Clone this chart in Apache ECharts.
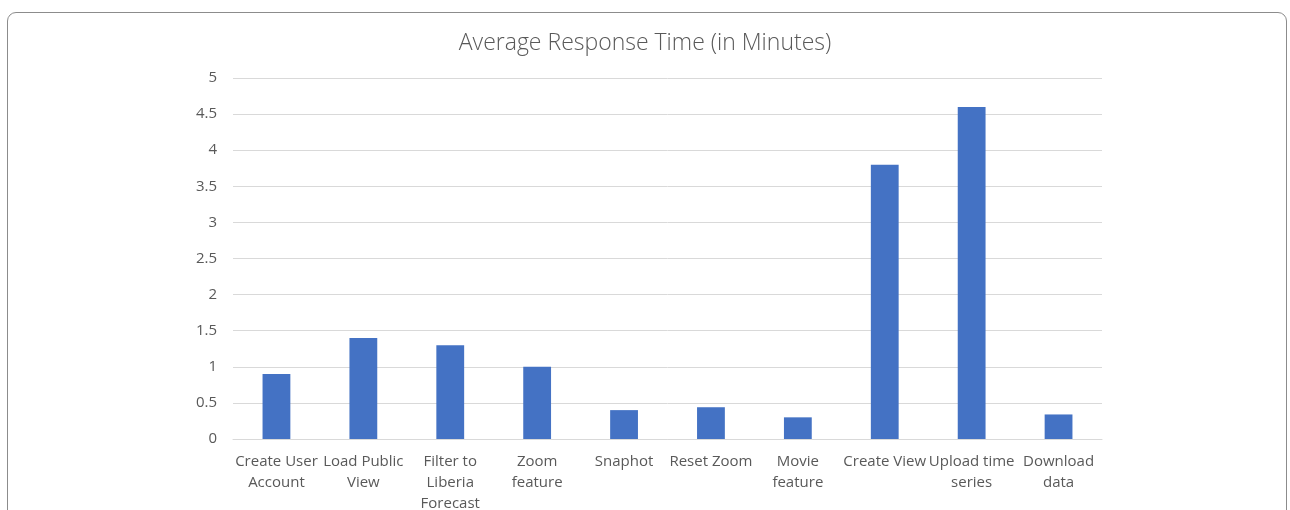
<!DOCTYPE html>
<html>
<head>
<meta charset="utf-8">
<script src="https://cdn.jsdelivr.net/npm/echarts@6/dist/echarts.min.js"></script>
<style>
html,body{margin:0;padding:0;background:#fff;width:1290px;height:510px;overflow:hidden;}
#frame{position:absolute;left:7px;top:12px;width:1280px;height:530px;border:1px solid #8c8c8c;border-radius:9px;box-sizing:border-box;}
#wrap{position:relative;width:1290px;height:510px;overflow:hidden;}
#chart{position:absolute;left:0;top:0;width:1290px;height:510px;}
</style>
</head>
<body>
<div id="wrap">
<div id="frame"></div>
<div id="chart"></div>
</div>
<script>
const titleText = "Average Response Time (in Minutes)";
const categories = ["Create User\nAccount", "Load Public\nView", "Filter to\nLiberia\nForecast", "Zoom\nfeature", "Snaphot", "Reset Zoom", "Movie\nfeature", "Create View", "Upload time\nseries", "Download\ndata"];
const values = [0.9, 1.4, 1.3, 1.0, 0.4, 0.44, 0.3, 3.8, 4.6, 0.34];

const FONT = "'Open Sans', sans-serif";
const chart = echarts.init(document.getElementById('chart'), null, {renderer: 'canvas', width: 1290, height: 510});
chart.setOption({
  animation: false,
  title: {
    text: titleText, left: 'center', top: 27,
    textStyle: {fontFamily: FONT, fontWeight: 300, fontSize: 23, color: '#595959'}
  },
  grid: {left: 233, right: 188, top: 78, bottom: 71, containLabel: false, outerBoundsMode: 'none'},
  xAxis: {
    type: 'category', data: categories,
    axisLine: {lineStyle: {color: '#d9d9d9', width: 1}},
    axisTick: {show: false},
    axisLabel: {interval: 0, margin: 12, fontFamily: FONT, fontSize: 15, color: '#595959', lineHeight: 21, verticalAlign: 'top'}
  },
  yAxis: {
    type: 'value', min: 0, max: 5, interval: 0.5,
    axisLine: {show: false}, axisTick: {show: false},
    splitLine: {lineStyle: {color: '#d9d9d9', width: 1}},
    axisLabel: {margin: 16, fontFamily: FONT, fontSize: 15, color: '#595959'}
  },
  series: [{
    type: 'bar', data: values, barWidth: '32%',
    itemStyle: {color: '#4472c4'}
  }]
});
</script>
</body>
</html>
